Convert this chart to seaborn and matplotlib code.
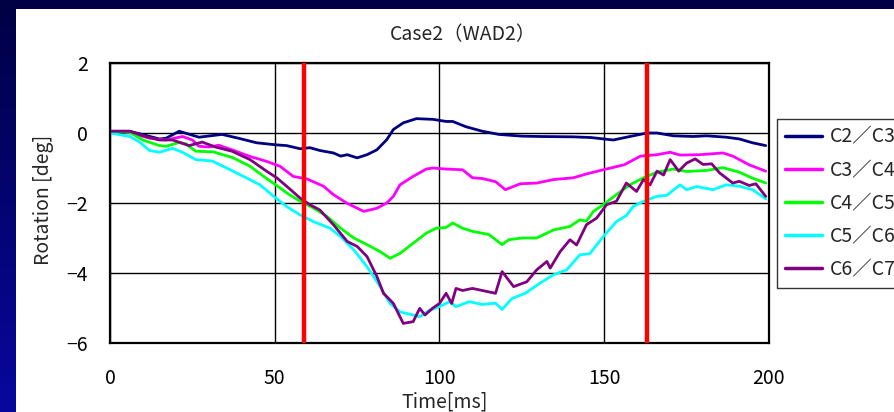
import numpy as np
import pandas as pd
import matplotlib
matplotlib.use("Agg")
import matplotlib.pyplot as plt
from matplotlib.patches import Rectangle
import seaborn as sns

# ---------------- data ----------------
title = "Case2（WAD2）"
series_names = ["C2／C3", "C3／C4", "C4／C5", "C5／C6", "C6／C7"]
series_colors = ["#000080", "#ff00ff", "#00ff00", "#00ffff", "#800080"]

c23_t = [0, 6, 15, 17, 21, 27, 34, 39, 44.5, 50.6, 53.6, 57.7, 60.7, 63.7, 67.8, 70, 72, 75, 78, 81,
         84, 86, 89, 93, 98, 102, 104, 108, 113, 118, 125, 130.5, 140.6, 146, 152.7, 158.8, 163, 166,
         171, 177, 181, 187, 191, 195, 199]
c23_v = [0.05, 0.05, -0.17, -0.15, 0.05, -0.12, -0.04, -0.15, -0.28, -0.34, -0.36, -0.45, -0.42, -0.5,
         -0.57, -0.66, -0.62, -0.71, -0.62, -0.48, -0.19, 0.1, 0.29, 0.41, 0.39, 0.33, 0.33, 0.18, 0.05,
         -0.04, -0.09, -0.1, -0.11, -0.13, -0.2, -0.08, 0.0, 0.0, -0.08, -0.1, -0.08, -0.12, -0.17,
         -0.28, -0.36]

c34_t = [0, 6, 12, 17, 22, 25, 27, 30, 33, 37, 42.5, 47.5, 51.6, 55.6, 59.7, 64.8, 67.8, 71.8, 77, 81,
         84, 86, 88, 92, 96, 98, 102, 107, 110, 113, 117, 120, 124.5, 129.5, 134.6, 140.6, 144.6,
         149.7, 156, 161, 166, 170, 173, 179, 186, 189, 194, 199]
c34_v = [0.05, 0.02, -0.15, -0.2, -0.1, -0.2, -0.38, -0.4, -0.35, -0.48, -0.67, -0.81, -0.95, -1.24,
         -1.31, -1.52, -1.76, -2.0, -2.24, -2.15, -2.0, -1.81, -1.48, -1.24, -1.03, -1.0, -1.03, -1.05,
         -1.28, -1.3, -1.39, -1.62, -1.45, -1.43, -1.33, -1.28, -1.17, -1.05, -0.91, -0.66, -0.62,
         -0.55, -0.63, -0.62, -0.57, -0.66, -0.91, -1.09]

c45_t = [0, 6, 10, 15, 17, 21, 23, 26, 31.4, 37.4, 42.5, 47.5, 50.6, 53.6, 57.7, 61.7, 65.8, 70, 74,
         78, 82, 85, 88, 92, 96, 99, 102, 104, 107, 110, 115, 119, 121, 125, 129.5, 134.6, 139.6,
         142.6, 144.6, 146.7, 149.7, 153.7, 157.8, 161.9, 166, 171, 175, 181, 186, 191, 195, 199]
c45_v = [0.05, 0.02, -0.2, -0.36, -0.38, -0.27, -0.31, -0.52, -0.54, -0.71, -0.95, -1.3, -1.5, -1.71,
         -1.95, -2.14, -2.38, -2.72, -3.0, -3.19, -3.39, -3.58, -3.44, -3.15, -2.86, -2.72, -2.7,
         -2.57, -2.72, -2.81, -2.9, -3.19, -3.05, -3.0, -3.0, -2.77, -2.67, -2.48, -2.52, -2.24,
         -2.05, -1.76, -1.48, -1.28, -1.12, -1.03, -1.1, -1.07, -0.99, -1.12, -1.29, -1.43]

c56_t = [0, 6, 9, 12, 15, 19, 22, 26, 31, 35.4, 40.5, 45.5, 50.6, 53.6, 57.7, 61.7, 66.8, 70, 74, 78,
         82, 85, 88, 92, 94, 97, 100, 103, 105, 109, 113, 117, 119, 122, 126, 130.5, 134.6, 138.6,
         142.6, 145.6, 149.7, 153.7, 156.7, 158.8, 161.9, 166, 169, 173, 175, 178, 183, 187, 191,
         195, 199]
c56_v = [0.0, -0.1, -0.26, -0.5, -0.55, -0.44, -0.55, -0.76, -0.8, -1.0, -1.24, -1.48, -1.88, -2.1,
         -2.34, -2.53, -2.72, -2.96, -3.34, -3.82, -4.39, -4.87, -5.11, -5.2, -5.25, -5.06, -4.96,
         -4.82, -4.96, -4.82, -4.9, -4.86, -5.04, -4.73, -4.58, -4.29, -4.05, -3.91, -3.48, -3.45,
         -2.96, -2.53, -2.36, -2.1, -1.95, -1.81, -1.78, -1.48, -1.62, -1.53, -1.62, -1.48, -1.52,
         -1.62, -1.88]

c67_t = [0, 6, 10, 15, 19, 24, 28, 32, 37, 42.5, 47.5, 50.6, 53.6, 57.7, 60.7, 63.7, 67.8, 72, 75,
         78, 81, 83, 86, 89, 92, 94, 95.6, 98, 100, 102, 103.7, 105, 107, 110, 113, 117, 119, 122.5,
         126.5, 129.5, 132.6, 133.6, 136.6, 139.6, 141.6, 144.6, 147.7, 150.7, 153.7, 156.7, 159.8,
         161.9, 163.9, 166, 168, 170, 172.6, 175, 177.6, 180, 182.6, 185, 189, 191, 194, 196, 199]
c67_v = [0.05, 0.05, -0.08, -0.2, -0.2, -0.36, -0.26, -0.4, -0.52, -0.76, -1.09, -1.28, -1.52, -1.86,
         -2.05, -2.2, -2.62, -3.1, -3.24, -3.53, -4.1, -4.58, -4.87, -5.44, -5.39, -5.01, -5.2, -5.0,
         -4.87, -4.58, -4.87, -4.44, -4.5, -4.44, -4.5, -4.58, -3.96, -4.39, -4.25, -3.91, -3.67,
         -3.86, -3.39, -3.05, -3.2, -2.62, -2.43, -2.05, -1.95, -1.43, -1.67, -1.33, -1.48, -1.09,
         -1.2, -0.76, -1.09, -0.86, -0.74, -0.9, -0.88, -1.14, -1.43, -1.38, -1.5, -1.45, -1.81]

event_times = [59, 163]          # red vertical markers
x_ticks = [0, 50, 100, 150, 200]
y_ticks = [-6, -4, -2, 0, 2]
x_label = "Time[ms]"
y_label = "Rotation [deg]"

all_t = [c23_t, c34_t, c45_t, c56_t, c67_t]
all_v = [c23_v, c34_v, c45_v, c56_v, c67_v]
df = pd.concat(
    [pd.DataFrame({"t": t, "v": v, "series": n}) for t, v, n in zip(all_t, all_v, series_names)],
    ignore_index=True,
)

# ---------------- style ----------------
sns.set_style("white")
plt.rcParams["font.family"] = ["Noto Sans CJK JP", "DejaVu Sans"]
plt.rcParams["axes.unicode_minus"] = True
FS = 14

W, H = 895, 412
fig = plt.figure(figsize=(W / 100, H / 100), dpi=100)

# background: dark blue gradient frame with white panel
bg = fig.add_axes([0, 0, 1, 1], zorder=-10)
bg.set_axis_off()
g = np.linspace(0, 1, 256)[:, None]
top = np.array([0.0, 0.0, 0.27])
bot = np.array([0.03, 0.03, 0.62])
img = (top[None, None, :] * (1 - g[:, :, None]) + bot[None, None, :] * g[:, :, None])
bg.imshow(img, aspect="auto", extent=[0, 1, 0, 1], origin="upper")
bg.add_patch(Rectangle((16 / W, 0), 1, 1 - 9 / H, facecolor="white", edgecolor="none",
                       transform=bg.transAxes))
bg.set_xlim(0, 1)
bg.set_ylim(0, 1)

ax = fig.add_axes([110 / W, 69 / H, 659 / W, 280 / H])
ax.set_facecolor("white")

palette = dict(zip(series_names, series_colors))
sns.lineplot(data=df, x="t", y="v", hue="series", hue_order=series_names, palette=palette,
             linewidth=2.0, ax=ax, legend=True, sort=False, estimator=None)

for et in event_times:
    ax.axvline(et, color="#ff0000", linewidth=3.2, zorder=6)

ax.set_xlim(0, 200)
ax.set_ylim(-6, 2)
ax.set_xticks(x_ticks)
ax.set_yticks(y_ticks)
ax.set_xticklabels([str(x) for x in x_ticks], fontsize=FS)
ax.set_yticklabels([str(y).replace("-", "\u2212") for y in y_ticks], fontsize=FS)
ax.tick_params(axis="both", length=0, colors="black")
ax.tick_params(axis="y", pad=16)
ax.tick_params(axis="x", pad=18)
ax.grid(True, color="black", linewidth=1.0)
ax.set_axisbelow(True)
for s in ax.spines.values():
    s.set_visible(True)
    s.set_color("black")
    s.set_linewidth(1.6)
ax.set_xlabel("")
ax.set_ylabel("")

handles, labels = ax.get_legend_handles_labels()
ax.get_legend().remove()
leg = fig.legend(handles, labels, loc="upper left", bbox_to_anchor=(777 / W, 1 - 119 / H),
                 bbox_transform=fig.transFigure, frameon=True, fancybox=False, shadow=False,
                 fontsize=FS, borderpad=0.4, labelspacing=0.62, handlelength=1.9,
                 handletextpad=0.4, borderaxespad=0)
leg.get_frame().set_edgecolor("black")
leg.get_frame().set_linewidth(1.0)
for h in leg.get_lines():
    h.set_linewidth(2.5)

fig.text(463 / W, 1 - 35 / H, title, ha="center", va="center", fontsize=FS)
fig.text(445 / W, 1 - 402 / H, x_label, ha="center", va="center", fontsize=FS)
fig.text(44 / W, 1 - 200 / H, y_label, ha="center", va="center", rotation=90, fontsize=FS)

fig.savefig("out.png", dpi=100)
